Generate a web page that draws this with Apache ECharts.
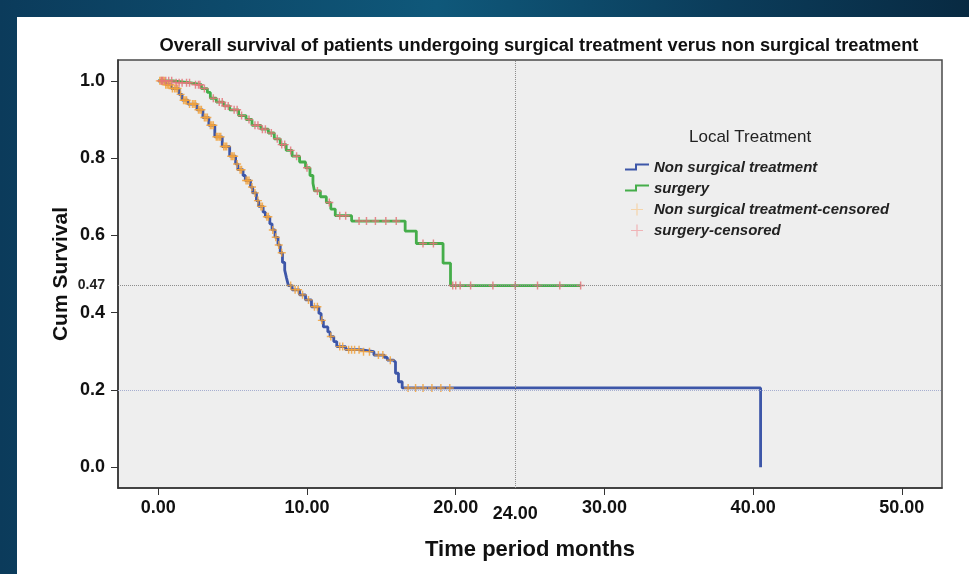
<!DOCTYPE html>
<html>
<head>
<meta charset="utf-8">
<script src="https://cdn.jsdelivr.net/npm/echarts@6/dist/echarts.min.js"></script>
<style>
  html, body { margin: 0; padding: 0; background: #0b3a58; }
  #chart { width: 969px; height: 574px; }
</style>
</head>
<body>
<div id="chart"></div>
<script>
// Kaplan-Meier estimates: [month, cumulative survival after the event]
const nonSurgical = [
  [0, 1.0], [0.5, 0.99], [0.9, 0.98], [1.4, 0.965], [1.6, 0.95], [2.0, 0.94],
  [2.6, 0.925], [3.0, 0.905], [3.4, 0.885], [3.8, 0.855], [4.3, 0.83], [4.8, 0.805],
  [5.2, 0.785], [5.35, 0.77], [5.7, 0.755], [5.85, 0.742], [6.2, 0.725], [6.35, 0.71],
  [6.6, 0.69], [6.75, 0.675], [7.05, 0.66], [7.2, 0.648], [7.5, 0.63], [7.65, 0.614],
  [7.85, 0.595], [8.05, 0.575], [8.2, 0.555], [8.35, 0.53], [8.5, 0.51], [8.62, 0.49],
  [8.75, 0.47], [9.0, 0.459], [9.5, 0.446], [9.9, 0.433], [10.3, 0.415], [10.8, 0.398],
  [10.95, 0.38], [11.1, 0.363], [11.4, 0.35], [11.55, 0.338], [11.8, 0.325], [12.0, 0.312],
  [12.6, 0.304], [13.6, 0.299], [14.5, 0.29], [15.2, 0.284], [15.4, 0.277], [15.8, 0.272],
  [15.95, 0.243], [16.15, 0.221], [16.4, 0.205], [40.5, 0]
];
const surgery = [
  [0, 1.0], [1.0, 0.995], [2.2, 0.99], [2.9, 0.98], [3.3, 0.97], [3.5, 0.955],
  [3.9, 0.945], [4.4, 0.935], [4.8, 0.925], [5.4, 0.91], [5.9, 0.9], [6.3, 0.885],
  [6.9, 0.875], [7.4, 0.865], [7.8, 0.85], [8.2, 0.835], [8.6, 0.82], [9.0, 0.805],
  [9.5, 0.79], [9.9, 0.775], [10.2, 0.755], [10.4, 0.735], [10.5, 0.715], [10.9, 0.7],
  [11.3, 0.685], [11.6, 0.668], [11.9, 0.651], [13.0, 0.637], [16.6, 0.611],
  [17.35, 0.579], [19.15, 0.528], [19.65, 0.47], [28.4, 0.47]
];
// Months at which patients were censored
const nonSurgicalCensoredMonths = [
  0.1, 0.2, 0.3, 0.4, 0.5, 0.6, 0.7, 0.8, 0.95, 1.1, 1.2, 1.3, 1.5, 1.7, 1.8, 1.9,
  2.1, 2.3, 2.4, 2.5, 2.7, 2.8, 2.9, 3.1, 3.2, 3.3, 3.5, 3.6, 3.7, 3.9, 4.0, 4.1,
  4.2, 4.4, 4.5, 4.6, 4.9, 5.0, 5.1, 5.3, 5.5, 5.6, 5.9, 6.0, 6.1, 6.3, 6.5, 6.7,
  6.9, 7.0, 7.3, 7.4, 7.7, 7.9, 8.1, 8.3, 8.9, 9.2, 9.4, 9.7, 10.1, 10.5, 10.7,
  11.0, 11.6, 12.2, 12.4, 12.8, 13.0, 13.2, 13.5, 13.8, 14.2, 14.8, 15.1, 15.6,
  16.8, 17.3, 17.8, 18.4, 19.0, 19.6
];
const surgeryCensoredMonths = [
  0.2, 0.3, 0.5, 0.7, 0.9, 1.2, 1.4, 1.6, 1.9, 2.1, 2.5, 2.7, 2.8, 3.1, 3.7, 4.1,
  4.3, 4.5, 4.7, 5.1, 5.3, 5.6, 6.1, 6.5, 6.7, 7.0, 7.2, 7.6, 8.0, 8.3, 8.5, 8.9,
  9.3, 10.0, 10.7, 11.5, 12.2, 12.6, 13.5, 14.0, 14.6, 15.3, 16.0, 17.8, 18.5,
  19.8, 20.0, 20.3, 21.0, 22.5, 24.0, 25.5, 27.0, 28.4
];
const xTicks = [0, 10, 20, 30, 40, 50];
const yTicks = [0, 0.2, 0.4, 0.6, 0.8, 1.0];
const medianMonth = 24;
const survivalRef = 0.47;
const floorRef = 0.2;

const FONT = '"Liberation Sans", Arial, sans-serif';
const BLUE = '#3d56a8', GREEN = '#45ad4a', ORANGE = '#f2a23c', PINK = '#e4757a';

// survival value of a step curve at month t
function survivalAt(curve, t) {
  let s = curve[0][1];
  for (const p of curve) { if (p[0] <= t) s = p[1]; else break; }
  return s;
}
const onCurve = (curve, months) => months.map(t => [t, survivalAt(curve, t)]);

// icons drawn inside a 24x12 box (corner specks fix the box size)
const box = 'M0,0 L0.05,0 L0.05,0.05 Z M23.95,11.95 L24,11.95 L24,12 Z ';
const stepIcon = 'path://' + box + 'M0,7 L10,7 L10,2 L24,2 L24,4 L12,4 L12,9 L0,9 Z';
const plusIcon = 'path://' + box + 'M6,5.4 L18,5.4 L18,6.6 L6,6.6 Z M11.4,0 L12.6,0 L12.6,12 L11.4,12 Z';
const plusMark = 'path://M0,4.1 L10,4.1 L10,5.9 L0,5.9 Z M4.1,0 L5.9,0 L5.9,10 L4.1,10 Z';

const chart = echarts.init(document.getElementById('chart'), null, { renderer: 'canvas' });

chart.setOption({
  animation: false,
  backgroundColor: 'transparent',
  graphic: [
    { type: 'rect', z: -10, shape: { x: 0, y: 0, width: 969, height: 574 },
      style: { fill: new echarts.graphic.LinearGradient(0, 0, 1, 0, [
        { offset: 0, color: '#0b3b5b' }, { offset: 0.45, color: '#0f587a' },
        { offset: 0.75, color: '#0b3c5a' }, { offset: 1, color: '#082a42' }]) } },
    { type: 'rect', z: -9, shape: { x: 17, y: 17, width: 952, height: 557 },
      style: { fill: '#ffffff' } },
    { type: 'text', z: 10, left: 753 - 64, top: 129,
      style: { text: 'Local Treatment', font: '17px ' + FONT, fill: '#222' } }
  ],
  title: {
    text: 'Overall survival of patients undergoing surgical treatment verus non surgical treatment',
    left: 534, top: 32, textAlign: 'center',
    textStyle: { fontFamily: FONT, fontSize: 18.3, fontWeight: 'bold', color: '#111' }
  },
  grid: {
    left: 118, right: 27, top: 60, bottom: 86,
    show: true, backgroundColor: '#eeeeee', borderColor: '#4a4a4a', borderWidth: 1.5
  },
  xAxis: {
    type: 'value', min: -2.71, max: 52.7,
    name: 'Time period months', nameLocation: 'middle', nameGap: 51,
    nameTextStyle: { fontFamily: FONT, fontSize: 22, fontWeight: 'bold', color: '#111' },
    axisLine: { show: true, onZero: false, lineStyle: { color: '#333', width: 1.5 } },
    axisTick: { show: true, inside: false, length: 7, lineStyle: { color: '#333' }, customValues: xTicks },
    splitLine: { show: false },
    axisLabel: {
      customValues: xTicks.concat([medianMonth]),
      margin: 11, fontFamily: FONT, fontSize: 18, fontWeight: 'bold', color: '#111',
      formatter: v => v === medianMonth ? '{low|' + v.toFixed(2) + '}' : v.toFixed(2),
      rich: { low: { fontFamily: FONT, fontSize: 18, fontWeight: 'bold', color: '#111', padding: [6, 0, 0, 0] } }
    }
  },
  yAxis: {
    type: 'value', min: -0.054, max: 1.054,
    name: 'Cum Survival', nameLocation: 'middle', nameGap: 46, nameMoveOverlap: false,
    nameTextStyle: { fontFamily: FONT, fontSize: 21, fontWeight: 'bold', color: '#111' },
    axisLine: { show: true, onZero: false, lineStyle: { color: '#333', width: 1.5 } },
    axisTick: { show: true, inside: false, length: 7, lineStyle: { color: '#333' }, customValues: yTicks },
    splitLine: { show: false },
    axisLabel: {
      customValues: yTicks.concat([survivalRef]),
      margin: 13, fontFamily: FONT, fontSize: 18, fontWeight: 'bold', color: '#111',
      formatter: v => v === survivalRef ? '{small|' + v.toFixed(2) + '}' : v.toFixed(1),
      rich: { small: { fontFamily: FONT, fontSize: 14, fontWeight: 'bold', color: '#222' } }
    }
  },
  legend: {
    orient: 'vertical', left: 620, top: 155, itemGap: 6,
    itemWidth: 24, itemHeight: 12,
    textStyle: { fontFamily: FONT, fontSize: 15, fontStyle: 'italic', fontWeight: 'bold', color: '#222' },
    data: [
      { name: 'Non surgical treatment', icon: stepIcon, itemStyle: { color: BLUE } },
      { name: 'surgery', icon: stepIcon, itemStyle: { color: GREEN } },
      { name: 'Non surgical treatment-censored', icon: plusIcon, itemStyle: { color: '#f6cf9c' } },
      { name: 'surgery-censored', icon: plusIcon, itemStyle: { color: '#f0a8ac' } }
    ]
  },
  series: [
    {
      name: 'reference lines', type: 'line', data: [], z: 1, silent: true,
      markLine: {
        silent: true, symbol: 'none', label: { show: false }, animation: false,
        data: [
          { yAxis: survivalRef, lineStyle: { color: '#8c8c8c', type: 'dotted', width: 1 } },
          { yAxis: floorRef, lineStyle: { color: '#a6aed0', type: 'dotted', width: 1 } },
          { xAxis: medianMonth, lineStyle: { color: '#8c8c8c', type: 'dotted', width: 1 } }
        ]
      }
    },
    {
      name: 'Non surgical treatment', type: 'line', step: 'end', data: nonSurgical,
      showSymbol: false, color: BLUE, lineStyle: { color: BLUE, width: 2.8 }, z: 2
    },
    {
      name: 'surgery', type: 'line', step: 'end', data: surgery,
      showSymbol: false, color: GREEN, lineStyle: { color: GREEN, width: 2.8 }, z: 2
    },
    {
      name: 'Non surgical treatment-censored', type: 'scatter',
      data: onCurve(nonSurgical, nonSurgicalCensoredMonths),
      symbol: plusMark, symbolSize: 8, itemStyle: { color: ORANGE, opacity: 0.85 }, z: 3
    },
    {
      name: 'surgery-censored', type: 'scatter',
      data: onCurve(surgery, surgeryCensoredMonths),
      symbol: plusMark, symbolSize: 8, itemStyle: { color: PINK, opacity: 0.85 }, z: 3
    }
  ]
});
</script>
</body>
</html>
